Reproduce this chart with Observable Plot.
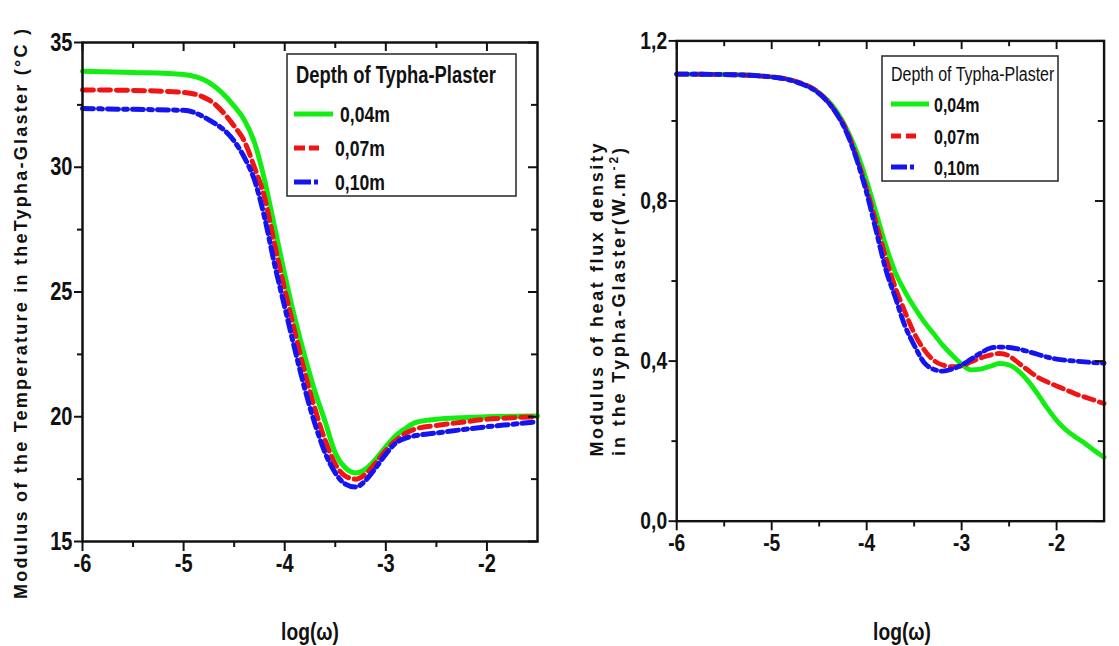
<!DOCTYPE html>
<html>
<head>
<meta charset="utf-8">
<script src="https://cdn.jsdelivr.net/npm/d3@7"></script>
<script src="https://cdn.jsdelivr.net/npm/@observablehq/plot@0.6"></script>
<style>
  html, body { margin: 0; padding: 0; background: #fff; overflow: hidden; }
  #wrap { position: relative; width: 1119px; height: 646px; overflow: hidden; background: #fff; }
  #left, #right { position: absolute; top: 0; }
  #left { left: 0; }
  #right { left: 580px; }
  #overlay { position: absolute; left: 0; top: 0; pointer-events: none; }
</style>
</head>
<body>
<div id="wrap">
  <div id="left"></div>
  <div id="right"></div>
  <svg id="overlay" width="1119" height="646"></svg>
</div>
<script>
// ---------- data ----------
const seriesNames = ["0,04m", "0,07m", "0,10m"];
const seriesColors = ["#12ee12", "#f01414", "#1414f0"];
const legendTitle = "Depth of Typha-Plaster";
const xLabel = "log(\u03c9)";
const yLabelLeft = "Modulus of the Temperature in theTypha-Glaster (\u00b0C )";
const yLabelRight1 = "Modulus of heat flux density";
const yLabelRight2 = "in the Typha-Glaster(W.m";

const xTicksMajor = [-6, -5, -4, -3, -2];
const xTicksMinor = [-5.5, -4.5, -3.5, -2.5];
const tempTicksMajor = [15, 20, 25, 30, 35];
const tempTicksMinor = [17.5, 22.5, 27.5, 32.5];
const fluxTicksMajor = [0, 0.4, 0.8, 1.2];
const fluxTicksMinor = [0.2, 0.6, 1.0];

// left panel: temperature modulus
const xTemp = [-6, -5.5, -5, -4.75, -4.5, -4.4, -4.3, -4.2, -4.1, -4.0, -3.9, -3.8, -3.7, -3.6, -3.5, -3.4, -3.3, -3.2, -3.1, -3.0, -2.9, -2.8, -2.7, -2.5, -2.25, -2.0, -1.75, -1.5];
const temp004 = [33.85, 33.8, 33.72, 33.4, 32.45, 31.9, 31.0, 29.5, 27.6, 25.7, 23.95, 22.4, 21.0, 19.8, 18.55, 17.95, 17.75, 17.9, 18.3, 18.8, 19.25, 19.55, 19.78, 19.9, 19.96, 20.0, 20.02, 20.03];
const temp007 = [33.1, 33.08, 33.0, 32.7, 31.65, 31.05, 30.0, 28.8, 26.9, 25.1, 23.4, 21.75, 20.3, 19.05, 18.1, 17.62, 17.5, 17.7, 18.15, 18.65, 19.05, 19.35, 19.52, 19.65, 19.78, 19.9, 19.96, 20.0];
const temp010 = [32.35, 32.32, 32.28, 31.9, 31.05, 30.4, 29.5, 28.0, 26.1, 24.4, 22.7, 21.1, 19.7, 18.55, 17.75, 17.3, 17.18, 17.45, 17.95, 18.5, 18.95, 19.15, 19.25, 19.35, 19.48, 19.6, 19.7, 19.8];

// right panel: heat flux density modulus
const xFlux = [-6, -5.5, -5, -4.75, -4.5, -4.35, -4.2, -4.1, -4.0, -3.9, -3.8, -3.7, -3.6, -3.5, -3.4, -3.3, -3.2, -3.1, -3.0, -2.9, -2.8, -2.7, -2.6, -2.5, -2.4, -2.3, -2.2, -2.1, -2.0, -1.9, -1.8, -1.7, -1.6, -1.5];
const flux004 = [1.117, 1.116, 1.11, 1.099, 1.07, 1.035, 0.975, 0.92, 0.85, 0.77, 0.69, 0.623, 0.575, 0.535, 0.5, 0.47, 0.44, 0.415, 0.392, 0.378, 0.38, 0.387, 0.394, 0.39, 0.375, 0.35, 0.318, 0.283, 0.252, 0.228, 0.21, 0.194, 0.176, 0.16];
const flux007 = [1.117, 1.116, 1.11, 1.099, 1.07, 1.03, 0.97, 0.905, 0.83, 0.745, 0.66, 0.585, 0.525, 0.47, 0.43, 0.403, 0.39, 0.386, 0.388, 0.398, 0.408, 0.415, 0.419, 0.413, 0.395, 0.377, 0.36, 0.348, 0.338, 0.328, 0.318, 0.31, 0.302, 0.294];
const flux010 = [1.117, 1.116, 1.11, 1.098, 1.068, 1.03, 0.965, 0.9, 0.82, 0.725, 0.63, 0.56, 0.49, 0.44, 0.398, 0.38, 0.375, 0.38, 0.39, 0.405, 0.42, 0.432, 0.435, 0.434, 0.43, 0.424, 0.417, 0.41, 0.405, 0.402, 0.4, 0.398, 0.396, 0.395];

// ---------- styling ----------
const SANS = "'Liberation Sans', Arial, Helvetica, sans-serif";
const NARROW_SX = 0.8; // horizontal squeeze to mimic Arial Narrow
const dashes = [null, "11,6", "11,5,4,5"];
const H = 646, MT = 42, MB = 105, PH = H - MT - MB;

// squeeze glyphs horizontally (after the svg is in the document)
function squeezeTexts(svg, f) {
  d3.select(svg).selectAll("text").each(function () {
    if (!this.textContent.trim()) return;
    const L = this.getComputedTextLength();
    if (L > 0) {
      this.setAttribute("textLength", (L * f).toFixed(2));
      this.setAttribute("lengthAdjust", "spacingAndGlyphs");
    }
  });
}

function makePlot({xs, ys, yDomain, yMajor, yMinor, yFmt, width, marginLeft, marginRight}) {
  const PW = width - marginLeft - marginRight;
  const lineMarks = ys.map((vals, k) =>
    Plot.line(xs.map((x, i) => ({x, y: vals[i]})), {
      x: "x", y: "y", stroke: seriesColors[k], strokeWidth: 5,
      strokeDasharray: dashes[k] || undefined, curve: "monotone-x"
    })
  );
  return Plot.plot({
    width, height: H, marginLeft, marginRight, marginTop: MT, marginBottom: MB,
    x: {domain: [-6, -1.5]},
    y: {domain: yDomain},
    style: {fontFamily: SANS, fontSize: "25px", fontWeight: "bold", color: "#111", background: "transparent", overflow: "visible"},
    marks: [
      ...lineMarks,
      Plot.frame({stroke: "#111", strokeWidth: 2.5}),
      Plot.axisX(xTicksMajor, {tickSize: 10, tickPadding: 3, tickFormat: d => String(d), strokeWidth: 2, label: null}),
      Plot.axisX(xTicksMinor, {tickSize: 6, tickFormat: () => "", strokeWidth: 2, label: null}),
      Plot.axisY(yMajor, {tickSize: 8, tickPadding: 2, tickFormat: yFmt, strokeWidth: 2, label: null}),
      Plot.axisY(yMinor, {tickSize: 5, tickFormat: () => "", strokeWidth: 2, label: null}),
      Plot.tickX(xTicksMajor, {x: d => d, insetBottom: PH - 9, stroke: "#111", strokeWidth: 2}),
      Plot.tickX(xTicksMinor, {x: d => d, insetBottom: PH - 6, stroke: "#111", strokeWidth: 2}),
      Plot.tickY(yMajor, {y: d => d, insetLeft: PW - 9, stroke: "#111", strokeWidth: 2}),
      Plot.tickY(yMinor, {y: d => d, insetLeft: PW - 6, stroke: "#111", strokeWidth: 2})
    ]
  });
}

const leftSvg = makePlot({
  xs: xTemp, ys: [temp004, temp007, temp010], yDomain: [15, 35],
  yMajor: tempTicksMajor, yMinor: tempTicksMinor, yFmt: d => String(d),
  width: 560, marginLeft: 82, marginRight: 23
});
document.getElementById("left").append(leftSvg);
squeezeTexts(leftSvg, NARROW_SX);

const rightSvg = makePlot({
  xs: xFlux, ys: [flux004, flux007, flux010], yDomain: [0, 1.2],
  yMajor: fluxTicksMajor, yMinor: fluxTicksMinor, yFmt: d => d.toFixed(1).replace(".", ","),
  width: 560, marginLeft: 100, marginRight: 16
});
document.getElementById("right").append(rightSvg);
squeezeTexts(rightSvg, NARROW_SX);

// ---------- overlay: axis titles & legends ----------
const ov = d3.select("#overlay");

function addText(x, y, str, opts = {}) {
  const sx = opts.sx || 1;
  const t = ov.append("text").text(str)
    .attr("font-family", SANS)
    .attr("font-size", opts.size || 22)
    .attr("font-weight", opts.weight || "bold")
    .attr("fill", "#111")
    .attr("text-anchor", opts.anchor || "start")
    .attr("transform", `translate(${x},${y})${opts.rotate ? " rotate(-90)" : ""} scale(${sx},1)`);
  if (opts.length) t.attr("textLength", opts.length).attr("lengthAdjust", "spacing");
  return t;
}

// x titles
addText(310, 640, xLabel, {anchor: "middle", size: 24, sx: NARROW_SX});
addText(902, 640, xLabel, {anchor: "middle", size: 24, sx: NARROW_SX});

// y titles
addText(27, 314, yLabelLeft, {anchor: "middle", size: 18, rotate: true, length: 570});
addText(603, 300, yLabelRight1, {anchor: "middle", size: 18, rotate: true, length: 313});
const t2 = addText(625, 302, yLabelRight2, {anchor: "middle", size: 18, rotate: true, length: 308});
t2.append("tspan").attr("baseline-shift", "super").attr("font-size", 12).text("-2");
t2.append("tspan").text(")");

// legends
function legend(box, titleOpts, rows) {
  ov.append("rect").attr("x", box.x).attr("y", box.y).attr("width", box.w).attr("height", box.h)
    .attr("fill", "#fff").attr("stroke", "#333").attr("stroke-width", 1.6);
  addText(titleOpts.x, titleOpts.y, legendTitle, {size: titleOpts.size, weight: titleOpts.weight, sx: titleOpts.sx});
  rows.forEach((r, k) => {
    ov.append("line").attr("x1", r.x1).attr("x2", r.x2).attr("y1", r.y).attr("y2", r.y)
      .attr("stroke", seriesColors[k]).attr("stroke-width", 5)
      .attr("stroke-dasharray", r.dash || null);
    addText(r.tx, r.y + 7.5, seriesNames[k], {size: r.size, sx: NARROW_SX});
  });
}

legend({x: 287, y: 54, w: 229, h: 142}, {x: 296, y: 83, size: 23, weight: "bold", sx: 0.8}, [
  {x1: 294, x2: 333, y: 114, tx: 340, size: 22},
  {x1: 294, x2: 319, y: 148, tx: 335, size: 22, dash: "11,4"},
  {x1: 294, x2: 318, y: 182, tx: 335, size: 22, dash: "17,3,4"}
]);

legend({x: 882, y: 56, w: 176, h: 125}, {x: 891, y: 81, size: 20, weight: "normal", sx: 0.8}, [
  {x1: 891, x2: 929, y: 104, tx: 934, size: 20},
  {x1: 891, x2: 916, y: 136, tx: 934, size: 20, dash: "10,5"},
  {x1: 891, x2: 920, y: 167, tx: 934, size: 20, dash: "16,3,4"}
]);
</script>
</body>
</html>
